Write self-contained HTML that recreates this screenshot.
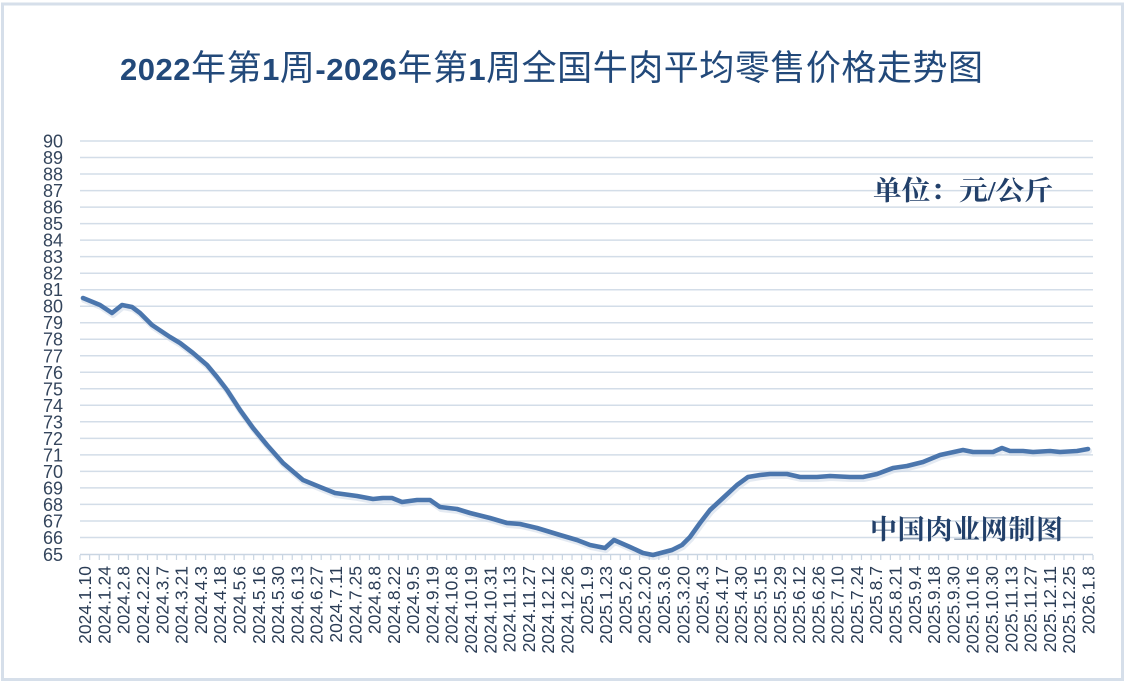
<!DOCTYPE html>
<html>
<head>
<meta charset="utf-8">
<style>
html,body{margin:0;padding:0;background:#ffffff;}
svg{display:block;}
</style>
</head>
<body>
<svg xmlns="http://www.w3.org/2000/svg" width="1125" height="682" viewBox="0 0 1125 682">
<rect x="0" y="0" width="1125" height="682" fill="#ffffff"/>
<rect x="2.5" y="4" width="1120" height="675.5" fill="#ffffff" stroke="#d6dfea" stroke-width="3"/>

<text x="120" y="80" textLength="863" lengthAdjust="spacing" font-family="'Liberation Sans','Noto Sans CJK SC',sans-serif" font-size="35" fill="#22497a"><tspan font-weight="bold" font-size="31">2022</tspan>年第<tspan font-weight="bold" font-size="31">1</tspan>周<tspan font-weight="bold" font-size="31">-2026</tspan>年第<tspan font-weight="bold" font-size="31">1</tspan>周全国牛肉平均零售价格走势图</text>

<g id="grid" stroke="#d3dde8" stroke-width="1.5">
<line x1="80" x2="1093" y1="141.0" y2="141.0"/>
<line x1="80" x2="1093" y1="157.5" y2="157.5"/>
<line x1="80" x2="1093" y1="174.0" y2="174.0"/>
<line x1="80" x2="1093" y1="190.6" y2="190.6"/>
<line x1="80" x2="1093" y1="207.1" y2="207.1"/>
<line x1="80" x2="1093" y1="223.6" y2="223.6"/>
<line x1="80" x2="1093" y1="240.1" y2="240.1"/>
<line x1="80" x2="1093" y1="256.6" y2="256.6"/>
<line x1="80" x2="1093" y1="273.2" y2="273.2"/>
<line x1="80" x2="1093" y1="289.7" y2="289.7"/>
<line x1="80" x2="1093" y1="306.2" y2="306.2"/>
<line x1="80" x2="1093" y1="322.7" y2="322.7"/>
<line x1="80" x2="1093" y1="339.2" y2="339.2"/>
<line x1="80" x2="1093" y1="355.8" y2="355.8"/>
<line x1="80" x2="1093" y1="372.3" y2="372.3"/>
<line x1="80" x2="1093" y1="388.8" y2="388.8"/>
<line x1="80" x2="1093" y1="405.3" y2="405.3"/>
<line x1="80" x2="1093" y1="421.8" y2="421.8"/>
<line x1="80" x2="1093" y1="438.4" y2="438.4"/>
<line x1="80" x2="1093" y1="454.9" y2="454.9"/>
<line x1="80" x2="1093" y1="471.4" y2="471.4"/>
<line x1="80" x2="1093" y1="487.9" y2="487.9"/>
<line x1="80" x2="1093" y1="504.4" y2="504.4"/>
<line x1="80" x2="1093" y1="521.0" y2="521.0"/>
<line x1="80" x2="1093" y1="537.5" y2="537.5"/>
<line x1="80" x2="1093" y1="554.5" y2="554.5" stroke="#c9d5e2"/>
</g>

<g font-family="'Liberation Sans',sans-serif" font-size="18" fill="#34455c" text-anchor="end">
<text x="63" y="147.5">90</text>
<text x="63" y="164">89</text>
<text x="63" y="180.5">88</text>
<text x="63" y="197.1">87</text>
<text x="63" y="213.6">86</text>
<text x="63" y="230.1">85</text>
<text x="63" y="246.6">84</text>
<text x="63" y="263.1">83</text>
<text x="63" y="279.7">82</text>
<text x="63" y="296.2">81</text>
<text x="63" y="312.7">80</text>
<text x="63" y="329.2">79</text>
<text x="63" y="345.7">78</text>
<text x="63" y="362.3">77</text>
<text x="63" y="378.8">76</text>
<text x="63" y="395.3">75</text>
<text x="63" y="411.8">74</text>
<text x="63" y="428.3">73</text>
<text x="63" y="444.9">72</text>
<text x="63" y="461.4">71</text>
<text x="63" y="477.9">70</text>
<text x="63" y="494.4">69</text>
<text x="63" y="510.9">68</text>
<text x="63" y="527.5">67</text>
<text x="63" y="544">66</text>
<text x="63" y="561">65</text>
</g>

<g id="ticks" stroke="#c9d5e2" stroke-width="1.2"></g>

<g id="xlabels" font-family="'Liberation Sans',sans-serif" font-size="17.5" fill="#2a3c55" text-anchor="end"></g>

<text x="873" y="200" textLength="180" lengthAdjust="spacingAndGlyphs" font-family="'Liberation Serif','Noto Serif CJK SC',serif" font-weight="bold" font-size="27" fill="#22406a">单位：元/公斤</text>

<text x="870" y="539" textLength="193" lengthAdjust="spacing" font-family="'Liberation Serif','Noto Serif CJK SC',serif" font-weight="bold" font-size="27" fill="#22406a">中国肉业网制图</text>

<polyline fill="none" stroke="#c9d6e6" stroke-width="6" stroke-linejoin="round" stroke-linecap="round" opacity="0.5" transform="translate(1,2)"
points="83,298 100,305 112,313 122,305 132,307 140,313 152,325 170,337 180,343 193,353 207,365 217,377 227,390 240,410 253,428 267,445 283,463 303,480 320,487 335,493 357,496 373,499 383,498 392,498 402,502 417,500 430,500 440,507 457,509 470,513 490,518 507,523 520,524 537,528 560,535 577,540 590,545 605,548 614,540 630,547 643,553 653,555 672,550 682,545 690,537 700,523 710,510 723,498 737,485 748,477 760,475 770,474 787,474 800,477 817,477 830,476 850,477 863,477 877,474 893,468 907,466 923,462 940,455 963,450 973,452 993,452 1002,448 1010,451 1023,451 1033,452 1050,451 1060,452 1077,451 1088,449"/>
<polyline fill="none" stroke="#4b76ad" stroke-width="4.6" stroke-linejoin="round" stroke-linecap="round"
points="83,298 100,305 112,313 122,305 132,307 140,313 152,325 170,337 180,343 193,353 207,365 217,377 227,390 240,410 253,428 267,445 283,463 303,480 320,487 335,493 357,496 373,499 383,498 392,498 402,502 417,500 430,500 440,507 457,509 470,513 490,518 507,523 520,524 537,528 560,535 577,540 590,545 605,548 614,540 630,547 643,553 653,555 672,550 682,545 690,537 700,523 710,510 723,498 737,485 748,477 760,475 770,474 787,474 800,477 817,477 830,476 850,477 863,477 877,474 893,468 907,466 923,462 940,455 963,450 973,452 993,452 1002,448 1010,451 1023,451 1033,452 1050,451 1060,452 1077,451 1088,449"/>
</svg>
<script>
(function(){
  var ns="http://www.w3.org/2000/svg";
  var ticks=document.getElementById("ticks");
  var step=1013/105;
  for(var i=0;i<=105;i++){
    var x=80+i*step;
    var l=document.createElementNS(ns,"line");
    l.setAttribute("x1",x.toFixed(2));l.setAttribute("x2",x.toFixed(2));
    l.setAttribute("y1","555");l.setAttribute("y2","560");
    ticks.appendChild(l);
  }
  var labels=["2024.1.10","2024.1.24","2024.2.8","2024.2.22","2024.3.7","2024.3.21","2024.4.3","2024.4.18","2024.5.6","2024.5.16","2024.5.30","2024.6.13","2024.6.27","2024.7.11","2024.7.25","2024.8.8","2024.8.22","2024.9.5","2024.9.19","2024.10.8","2024.10.19","2024.10.31","2024.11.13","2024.11.27","2024.12.12","2024.12.26","2025.1.9","2025.1.23","2025.2.6","2025.2.20","2025.3.6","2025.3.20","2025.4.3","2025.4.17","2025.4.30","2025.5.15","2025.5.29","2025.6.12","2025.6.26","2025.7.10","2025.7.24","2025.8.7","2025.8.21","2025.9.4","2025.9.18","2025.9.30","2025.10.16","2025.10.30","2025.11.13","2025.11.27","2025.12.11","2025.12.25","2026.1.8"];
  var g=document.getElementById("xlabels");
  for(var j=0;j<labels.length;j++){
    var cx=80+step/2+j*2*step;
    var t=document.createElementNS(ns,"text");
    t.setAttribute("transform","translate("+(cx+6.3).toFixed(2)+",566) rotate(-90)");
    t.textContent=labels[j];
    g.appendChild(t);
  }
})();
</script>
</body>
</html>
